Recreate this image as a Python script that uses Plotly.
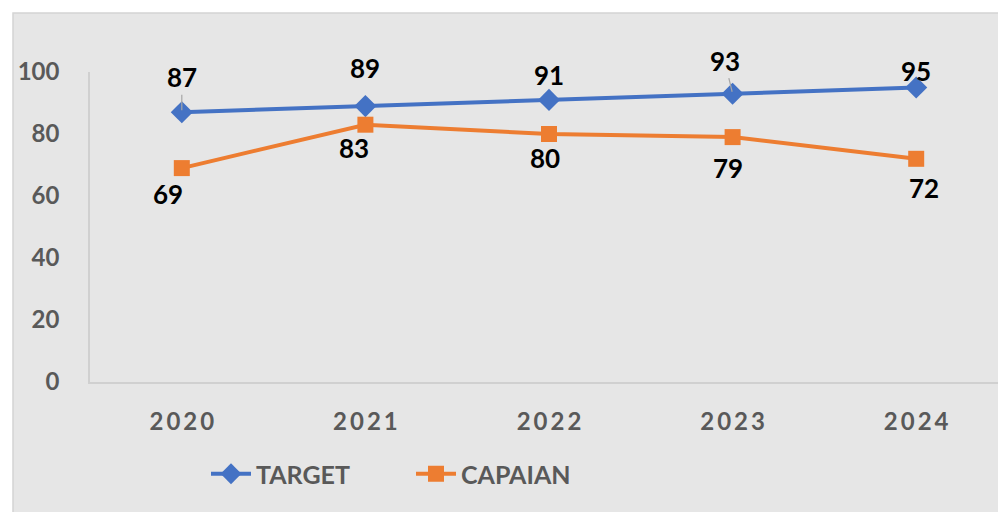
import plotly.graph_objects as go

years = ["2020", "2021", "2022", "2023", "2024"]
year_labels = ["2\u20090\u20092\u20090", "2\u20090\u20092\u20091", "2\u20090\u20092\u20092", "2\u20090\u20092\u20093", "2\u20090\u20092\u20094"]
target = [87, 89, 91, 93, 95]
capaian = [69, 83, 80, 79, 72]
y_ticks = [0, 20, 40, 60, 80, 100]

FONT = "Lato"
xi = list(range(len(years)))

# page body has an 8px default margin; margins below compensate for it
L, R, T, B = 82, 6, 64, 138
PW = 1006 - L - R
PH = 512 - T - B

fig = go.Figure()
fig.add_trace(go.Scatter(
    x=xi, y=target, name="TARGET", mode="lines+markers",
    line=dict(color="#4472C4", width=4),
    marker=dict(symbol="diamond", size=17, color="#4472C4"),
))
fig.add_trace(go.Scatter(
    x=xi, y=capaian, name="CAPAIAN", mode="lines+markers",
    line=dict(color="#ED7D31", width=4),
    marker=dict(symbol="square", size=16, color="#ED7D31"),
))

lab_font = dict(family=FONT, size=26, color="#000000", weight="bold")
t_off = [(0, 35), (0, 38), (0, 25), (-8, 33), (0, 17)]
t_arrow = [True, False, False, True, False]
for i, v in enumerate(target):
    dx, dy = t_off[i]
    if t_arrow[i]:
        fig.add_annotation(x=i, y=v, xref="x", yref="y", text=str(v), font=lab_font,
                           showarrow=True, arrowhead=0, arrowwidth=1.2, arrowcolor="#a6a6a6",
                           ax=dx, ay=-dy, standoff=2)
    else:
        fig.add_annotation(x=i, y=v, xref="x", yref="y", text=str(v), font=lab_font,
                           showarrow=False, xshift=dx, yshift=dy)
c_off = [(-14, -26), (-11, -23), (-4, -24), (-5, -31), (8, -29)]
for i, v in enumerate(capaian):
    dx, dy = c_off[i]
    fig.add_annotation(x=i, y=v, xref="x", yref="y", text=str(v), font=lab_font,
                       showarrow=False, xshift=dx, yshift=dy)

fig.add_shape(type="rect", xref="paper", yref="paper",
              x0=(13 - 90) / PW, x1=1.1, y0=-0.6, y1=(382 - 13) / PH,
              fillcolor="#e6e6e6", line=dict(color="#d4d4d4", width=1.5), layer="below")

fig.update_layout(
    width=1006, height=512,
    margin=dict(l=L, r=R, t=T, b=B, autoexpand=False),
    paper_bgcolor="#ffffff", plot_bgcolor="rgba(0,0,0,0)",
    showlegend=True,
    legend=dict(orientation="h", x=(206 - 90) / PW, xanchor="left",
                y=(382 - 474) / PH, yanchor="middle",
                font=dict(family=FONT, size=25, color="#595959", weight="bold"),
                itemwidth=40, entrywidth=150, bgcolor="rgba(0,0,0,0)"),
    xaxis=dict(
        range=[-0.5, 4.5], tickmode="array", tickvals=xi, ticktext=year_labels,
        showgrid=False, zeroline=False, showline=True, linecolor="#d0d0d0", linewidth=1.5,
        ticks="", tickfont=dict(family=FONT, size=24, color="#595959", weight="bold"),
        ticklabelstandoff=17, fixedrange=True,
    ),
    yaxis=dict(
        range=[0, 100], tickmode="array", tickvals=y_ticks,
        showgrid=False, zeroline=False, showline=True, linecolor="#d0d0d0", linewidth=1.5,
        ticks="", tickfont=dict(family=FONT, size=24, color="#595959", weight="bold"),
        ticklabelstandoff=24, fixedrange=True,
    ),
    font=dict(family=FONT),
)

fig.write_html("out.html")
